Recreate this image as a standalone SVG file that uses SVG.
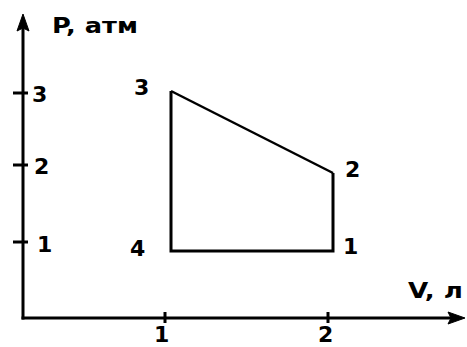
<svg xmlns="http://www.w3.org/2000/svg" width="467" height="347" viewBox="0 0 467 347">
<style>
.ax{stroke:#000;stroke-width:3;fill:none}
.cy{stroke:#000;stroke-width:3;fill:none;stroke-linejoin:miter}
.t{font-family:"DejaVu Sans","Liberation Sans",Arial,sans-serif;font-weight:bold;font-size:22px;fill:#000}
</style>
<rect width="467" height="347" fill="#fff"/>
<g id="axes">
<line class="ax" x1="23" y1="319.5" x2="23" y2="26"/>
<path d="M23,14 L29,31 L23,28 L17,31 Z" fill="#000" stroke="#000" stroke-width="1"/>
<line class="ax" x1="21.5" y1="318" x2="452" y2="318"/>
<path d="M465,318 L448,312 L451,318 L448,324 Z" fill="#000" stroke="#000" stroke-width="1"/>
<line class="ax" x1="13" y1="93" x2="28" y2="93"/>
<line class="ax" x1="13" y1="165" x2="28" y2="165"/>
<line class="ax" x1="13" y1="242" x2="28" y2="242"/>
<line class="ax" x1="165" y1="312" x2="165" y2="323"/>
<line class="ax" x1="328" y1="312" x2="328" y2="323"/>
</g>
<g id="connectors">
<polyline class="cy" points="333,173 333,251 171,251 171,91"/>
<line stroke="#000" stroke-width="2.5" x1="171" y1="91" x2="333" y2="173"/>
</g>
<g id="labels">
<text class="t" x="52" y="33" textLength="86" lengthAdjust="spacingAndGlyphs">P, атм</text>
<text class="t" x="408" y="298" textLength="55" lengthAdjust="spacingAndGlyphs">V, л</text>
<text class="t" x="32" y="102">3</text>
<text class="t" x="34" y="174">2</text>
<text class="t" x="37" y="252">1</text>
<text class="t" x="134" y="95">3</text>
<text class="t" x="345" y="177">2</text>
<text class="t" x="343" y="254">1</text>
<text class="t" x="130" y="256">4</text>
<text class="t" x="154" y="342">1</text>
<text class="t" x="318" y="342">2</text>
</g>
</svg>
